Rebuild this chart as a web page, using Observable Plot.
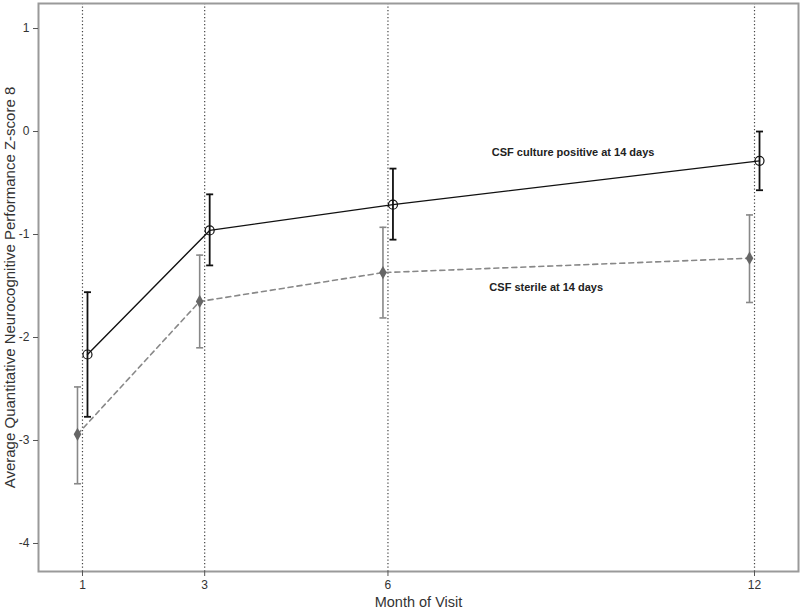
<!DOCTYPE html>
<html>
<head>
<meta charset="utf-8">
<script src="https://cdn.jsdelivr.net/npm/d3@7"></script>
<script src="https://cdn.jsdelivr.net/npm/@observablehq/plot@0.6"></script>
<style>
  html, body { margin: 0; padding: 0; background: #fff; }
  #chart svg { display: block; }
</style>
</head>
<body>
<div id="chart"></div>
<script>
// ---- data ----
const months = [1, 3, 6, 12];
const positiveMean = [-2.165, -0.96, -0.71, -0.285];
const positiveLow  = [-2.77, -1.30, -1.05, -0.57];
const positiveHigh = [-1.56, -0.61, -0.36, 0.00];
const sterileMean  = [-2.94, -1.65, -1.37, -1.23];
const sterileLow   = [-3.42, -2.10, -1.81, -1.66];
const sterileHigh  = [-2.48, -1.20, -0.93, -0.81];
const yTicks = [1, 0, -1, -2, -3, -4];
const labelTexts = ["CSF culture positive at 14 days", "CSF sterile at 14 days"];
const labelX = [7.7, 7.66];
const labelY = [-0.20, -1.51];
const xTitle = "Month of Visit";
const yTitle = "Average Quantitative Neurocognitive Performance Z-score 8";

const positive = months.map((m, i) => ({month: m, mean: positiveMean[i], low: positiveLow[i], high: positiveHigh[i]}));
const sterile = months.map((m, i) => ({month: m, mean: sterileMean[i], low: sterileLow[i], high: sterileHigh[i]}));
const labels = labelTexts.map((t, i) => ({text: t, x: labelX[i], y: labelY[i]}));

const capSymbol = {
  draw(context) { context.moveTo(-3.5, 0); context.lineTo(3.5, 0); }
};

const chart = Plot.plot({
  width: 800,
  height: 610,
  marginLeft: 38,
  marginRight: 2,
  marginTop: 3,
  marginBottom: 39,
  style: {fontFamily: "'Liberation Sans', Arial, sans-serif", background: "#fff", color: "#333"},
  x: {domain: [0.28, 12.72]},
  y: {domain: [-4.272, 1.243]},
  marks: [
    Plot.ruleX(months, {stroke: "#444", strokeWidth: 1.2, strokeDasharray: "1.3,2.2"}),
    Plot.frame({stroke: "#9a9a9a", strokeWidth: 2}),
    Plot.axisY({ticks: yTicks, tickSize: 5, tickPadding: 4, fontSize: 12, label: null, stroke: "#555", tickFormat: d => String(d)}),
    Plot.axisX({ticks: months, tickSize: 5, tickPadding: 4, fontSize: 12, label: null, stroke: "#555", tickFormat: d => String(d)}),
    Plot.text([yTitle], {frameAnchor: "left", textAnchor: "middle", lineAnchor: "middle", rotate: -90, dx: -28, fontSize: 15, fill: "#333"}),
    Plot.text([xTitle], {frameAnchor: "bottom", textAnchor: "middle", lineAnchor: "middle", dy: 31, fontSize: 14.5, fill: "#333"}),
    // sterile series
    Plot.line(sterile, {x: "month", y: "mean", dx: -5, stroke: "#888", strokeWidth: 1.6, strokeDasharray: "5,4"}),
    Plot.ruleX(sterile, {x: "month", y1: "low", y2: "high", dx: -5, stroke: "#888", strokeWidth: 1.6}),
    Plot.dot(sterile, {x: "month", y: "low", dx: -5, symbol: capSymbol, stroke: "#888", strokeWidth: 1.6}),
    Plot.dot(sterile, {x: "month", y: "high", dx: -5, symbol: capSymbol, stroke: "#888", strokeWidth: 1.6}),
    Plot.dot(sterile, {x: "month", y: "mean", dx: -5, symbol: "diamond", r: 4, fill: "#666", stroke: "none"}),
    // culture positive series
    Plot.line(positive, {x: "month", y: "mean", dx: 5, stroke: "#111", strokeWidth: 1.4}),
    Plot.ruleX(positive, {x: "month", y1: "low", y2: "high", dx: 5, stroke: "#111", strokeWidth: 1.8}),
    Plot.dot(positive, {x: "month", y: "low", dx: 5, symbol: capSymbol, stroke: "#111", strokeWidth: 1.8}),
    Plot.dot(positive, {x: "month", y: "high", dx: 5, symbol: capSymbol, stroke: "#111", strokeWidth: 1.8}),
    Plot.dot(positive, {x: "month", y: "mean", dx: 5, symbol: "circle", r: 4.5, fill: "none", stroke: "#111", strokeWidth: 1.2}),
    // annotations
    Plot.text(labels, {x: "x", y: "y", text: "text", textAnchor: "start", fontWeight: "bold", fontSize: 11, fill: "#222"})
  ]
});
document.getElementById("chart").appendChild(chart);
</script>
</body>
</html>
